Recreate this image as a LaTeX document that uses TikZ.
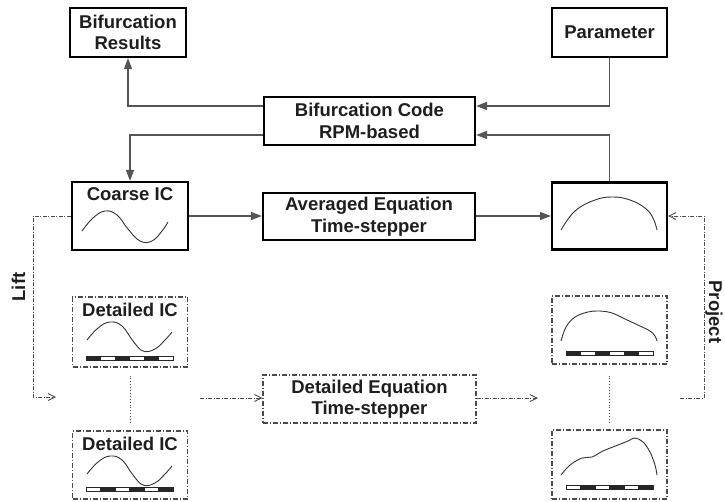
\documentclass[tikz,border=0pt]{standalone}
\usepackage{fontspec}
\setmainfont{Liberation Sans}
\usetikzlibrary{arrows.meta}
\definecolor{conngray}{HTML}{555555}
\definecolor{ddgray}{HTML}{4A4A4A}
\definecolor{txt}{HTML}{1E1E1E}
\begin{document}
\begin{tikzpicture}[x=1pt,y=-1pt,
  lbl/.style={font=\fontsize{18.5}{21.5}\selectfont\bfseries, text=txt, align=center},
  solidbox/.style={draw=black, line width=2.2pt, inner sep=0pt, fill=white},
  ddbox/.style={draw=ddgray, line width=1.1pt, inner sep=0pt, dash pattern=on 5pt off 2pt on 1pt off 2pt},
  conn/.style={draw=conngray, line width=1.5pt},
  tipfill/.style={-{Triangle[length=11pt,width=8pt]}},
  ddconn/.style={draw=ddgray, line width=0.9pt, dash pattern=on 4pt off 1.5pt on 1pt off 1.5pt, -{Straight Barb[open,length=7pt,width=7pt]}},
  curve/.style={draw=black!80, line width=0.9pt},
  barblk/.style={fill=black!85, draw=black!85, line width=0.5pt},
  barwht/.style={fill=white, draw=black!85, line width=0.5pt},
  dotconn/.style={draw=ddgray, line width=0.9pt, dotted}
]
\useasboundingbox (0,0) rectangle (725,501);

% ---------- solid boxes ----------
\node[solidbox, minimum width=116pt, minimum height=49pt, lbl] (bres) at (128,32.5) {Bifurcation\\Results};
\node[solidbox, minimum width=115pt, minimum height=49pt, lbl] (param) at (609.5,32.5) {Parameter};
\node[solidbox, minimum width=211pt, minimum height=48pt, lbl] (bcode) at (369.5,121) {Bifurcation Code\\RPM-based};
\node[solidbox, minimum width=116pt, minimum height=68pt] (coarse) at (130,216) {};
\node[lbl] (coarsetxt) at (130,194) {Coarse IC};
\node[solidbox, minimum width=212pt, minimum height=47pt, lbl] (avg) at (369,216.5) {Averaged Equation\\Time-stepper};
\node[solidbox, minimum width=115pt, minimum height=67pt] (rbox) at (609.5,216) {};

% ---------- dash-dot boxes ----------
\node[ddbox, minimum width=115pt, minimum height=70pt] (dtop) at (130,332) {};
\node[lbl] (dtoptxt) at (130,310) {Detailed IC};
\node[ddbox, minimum width=115pt, minimum height=68pt] (dbot) at (130,465) {};
\node[lbl] (dbottxt) at (130,444) {Detailed IC};
\node[ddbox, minimum width=213pt, minimum height=48pt, lbl] (deq) at (369.5,399) {Detailed Equation\\Time-stepper};
\node[ddbox, minimum width=115pt, minimum height=68pt] (rtop) at (609.5,330) {};
\node[ddbox, minimum width=115pt, minimum height=69pt] (rbot) at (609.5,464.5) {};

% ---------- solid connectors ----------
\draw[conn, tipfill] ([yshift=15pt]bcode.west) -| (bres.south);
\draw[conn, tipfill] ([yshift=-14pt]bcode.west) -| (coarse.north);
\draw[conn, tipfill] (param.south) |- ([yshift=15pt]bcode.east);
\draw[conn, tipfill] (rbox.north) |- ([yshift=-14pt]bcode.east);
\draw[conn, tipfill] (coarse.east) -- (avg.west |- coarse.east);
\draw[conn, tipfill] (avg.east |- rbox.west) -- (rbox.west);

% ---------- dash-dot connectors ----------
\coordinate (liftA) at (33,216);
\coordinate (liftB) at (33,397);
\coordinate (liftend) at (56,397);
\draw[ddconn] (coarse.west) -- (liftA) -- (liftB) -- (liftend);
\coordinate (inL) at (200,398);
\draw[ddconn] (inL) -- (deq.west |- inL);
\coordinate (outR) at (538,398);
\draw[ddconn] (deq.east |- outR) -- (outR);
\coordinate (projS) at (680,398);
\coordinate (projA) at (704,398);
\coordinate (projB) at (704,216);
\draw[ddconn] (projS) -- (projA) -- (projB) -- (rbox.east);

\draw[dotconn] ([yshift=-8pt]dtop.south) -- ([yshift=8pt]dbot.north);
\draw[dotconn] ([yshift=-11pt]rtop.south) -- ([yshift=7pt]rbot.north);

% ---------- side labels ----------
\node[lbl, rotate=90, anchor=base, inner sep=0pt] (lift) at (25,287) {Lift};
\node[lbl, rotate=-90, anchor=base, inner sep=0pt] (proj) at (709,312) {Project};

% ---------- curves ----------
\draw[curve] plot[smooth, tension=0.7] coordinates {(82,231) (93,218) (105,211) (117,215) (128,229) (140,241) (152,241) (162,231) (168,222)};
\draw[curve] plot[smooth, tension=0.7] coordinates {(561,230) (575,211) (595,200) (613,197) (630,200) (645,208) (653,218) (657,230)};
\draw[curve] plot[smooth, tension=0.7] coordinates {(87,340) (98,328) (110,322) (122,326) (133,341) (143,351) (155,349) (165,340) (172,332)};
\draw[curve] plot[smooth, tension=0.7] coordinates {(87,474) (98,462) (110,456) (122,460) (133,475) (143,485) (155,483) (165,474) (172,466)};
\draw[curve] plot[smooth, tension=0.6] coordinates {(561,341) (566,327) (575,317) (588,312) (600,311) (612,313) (625,319) (640,326) (650,331) (655,336) (657,341)};
\draw[curve] plot[smooth, tension=0.6] coordinates {(561,475) (570,465) (582,458) (592,457) (603,451) (618,445) (628,441) (635,438) (643,442) (650,452) (655,465) (657,475)};

% ---------- bars ----------
\foreach \i in {0,...,5}{
  \pgfmathsetmacro{\xa}{86+\i*14.5}
  \pgfmathsetmacro{\xb}{86+(\i+1)*14.5}
  \ifodd\i
    \path[barwht] (\xa,356) rectangle (\xb,360);
    \path[barblk] (\xa,487) rectangle (\xb,491);
  \else
    \path[barblk] (\xa,356) rectangle (\xb,360);
    \path[barwht] (\xa,487) rectangle (\xb,491);
  \fi
  \pgfmathsetmacro{\xc}{566+\i*14.5}
  \pgfmathsetmacro{\xd}{566+(\i+1)*14.5}
  \ifodd\i
    \path[barwht] (\xc,351) rectangle (\xd,355);
    \path[barblk] (\xc,485) rectangle (\xd,489);
  \else
    \path[barblk] (\xc,351) rectangle (\xd,355);
    \path[barwht] (\xc,485) rectangle (\xd,489);
  \fi
}
\end{tikzpicture}
\end{document}
